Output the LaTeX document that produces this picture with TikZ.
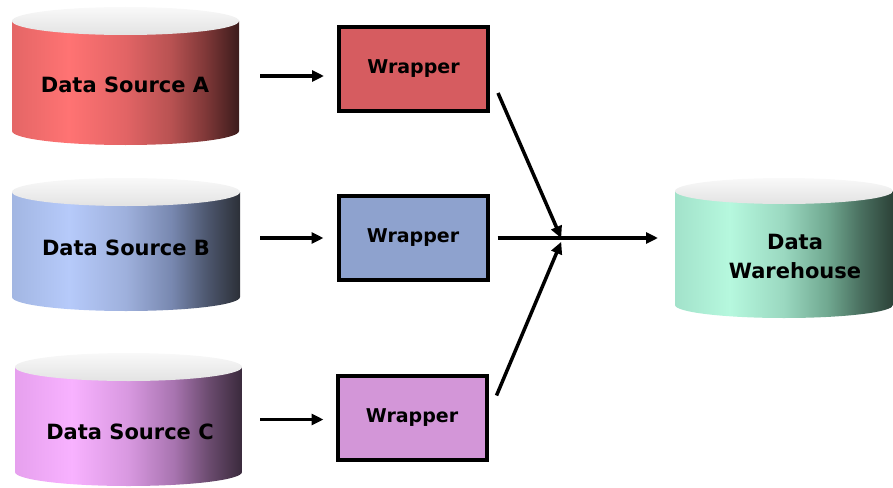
\documentclass[tikz,border=0pt]{standalone}
\usepackage{fontspec}
\setmainfont{DejaVu Sans}
\usetikzlibrary{arrows.meta}

% side colours of the drums (left edge, highlight, middle, darker, dark, right edge)
\definecolor{ra0}{HTML}{E46666}\definecolor{ra1}{HTML}{FF7373}\definecolor{ra2}{HTML}{E26465}
\definecolor{ra3}{HTML}{B85252}\definecolor{ra4}{HTML}{803838}\definecolor{ra5}{HTML}{3C1C1C}
\definecolor{rb0}{HTML}{A2B6E2}\definecolor{rb1}{HTML}{B6CAFA}\definecolor{rb2}{HTML}{9EB0DC}
\definecolor{rb3}{HTML}{7888B0}\definecolor{rb4}{HTML}{4E5870}\definecolor{rb5}{HTML}{2C3038}
\definecolor{rc0}{HTML}{E6A0EE}\definecolor{rc1}{HTML}{F8B2FF}\definecolor{rc2}{HTML}{D898E0}
\definecolor{rc3}{HTML}{A874B0}\definecolor{rc4}{HTML}{6C4C70}\definecolor{rc5}{HTML}{3A2A3C}
\definecolor{rw0}{HTML}{A2E2CA}\definecolor{rw1}{HTML}{B6F8DE}\definecolor{rw2}{HTML}{9AD8C0}
\definecolor{rw3}{HTML}{70A890}\definecolor{rw4}{HTML}{4A7060}\definecolor{rw5}{HTML}{2C4238}

\definecolor{wrapA}{HTML}{D65C60}
\definecolor{wrapB}{HTML}{8EA2CE}
\definecolor{wrapC}{HTML}{D396D8}

\newcommand\sideshading[2]{%
  \pgfdeclarehorizontalshading{#1}{100bp}{color(0bp)=(#20); color(25bp)=(#20);
    color(37.5bp)=(#21); color(50bp)=(#22); color(60bp)=(#23);
    color(67.5bp)=(#24); color(75bp)=(#25); color(100bp)=(#25)}}
\sideshading{sideA}{ra}
\sideshading{sideB}{rb}
\sideshading{sideC}{rc}
\sideshading{sideW}{rw}

\tikzset{
  lidshade/.style={shading=axis, top color=gray!5, bottom color=gray!22},
  drumbody/.style={inner sep=0pt, outer sep=0pt},
  drumtext/.style={font=\fontsize{21}{29}\selectfont\bfseries, align=center, inner sep=0pt},
  wrapbox/.style={draw=black, line width=4pt, minimum width=149pt, minimum height=84pt,
    inner sep=0pt, font=\fontsize{19}{23}\selectfont\bfseries},
  flow/.style={line width=3.5pt, -{Triangle[length=12pt,width=11pt]}},
}

% #1 left x, #2 right x, #3 lid centre y, #4 base centre y, #5 half height of ellipse,
% #6 side shading, #7 node name
\newcommand\dbdrum[7]{%
  \pgfmathsetmacro\drumrx{(#2-#1)/2}%
  \pgfmathsetmacro\drumcx{(#2+#1)/2}%
  \pgfmathsetmacro\drumcy{(#3+#4)/2}%
  \pgfmathsetmacro\drumw{#2-#1}%
  \pgfmathsetmacro\drumh{#4-#3}%
  \path[shading=#6] (#1,#3) -- (#1,#4)
     arc[start angle=180, end angle=360, x radius=\drumrx pt, y radius=#5pt]
     -- (#2,#3) -- cycle;
  \path[lidshade] (\drumcx,#3) ellipse[x radius=\drumrx pt, y radius=#5pt];
  \node[drumbody, minimum width=\drumw pt, minimum height=\drumh pt] (#7) at (\drumcx,\drumcy) {};
}

\begin{document}
\begin{tikzpicture}[x=1pt, y=-1pt]
\useasboundingbox (0,0) rectangle (893,487);

% sources and warehouse drums
\dbdrum{12}{239}{21}{131}{14}{sideA}{cylA}
\dbdrum{12}{240}{192}{297}{14}{sideB}{cylB}
\dbdrum{15}{242}{367}{472}{14}{sideC}{cylC}
\dbdrum{675}{893}{191}{305}{13}{sideW}{cylW}

\node[drumtext] (labA) at (125,85) {Data Source A};
\node[drumtext] (labB) at (126,248) {Data Source B};
\node[drumtext] (labC) at (130,432) {Data Source C};
\node[drumtext] (labW) at (795,256) {Data\\Warehouse};

% wrappers
\node[wrapbox, fill=wrapA] (wA) at (413.5,69) {Wrapper};
\node[wrapbox, fill=wrapB] (wB) at (413,238) {Wrapper};
\node[wrapbox, fill=wrapC] (wC) at (412,417.5) {Wrapper};

% junction where the wrapper outputs meet
\coordinate (jn) at (562,240);

% source -> wrapper
\draw[flow, shorten <=21pt, shorten >=13pt] (cylA.east) -- (cylA.east -| wA.west);
\draw[flow, shorten <=20pt, shorten >=13pt] (cylB.east |- wB.west) -- (wB.west);
\draw[flow, shorten <=18pt, shorten >=12pt] (cylC.east) -- (cylC.east -| wC.west);

% wrappers -> warehouse
\draw[flow, shorten >=2pt] ([xshift=8pt, yshift=-24pt]wA.east) -- (jn);
\draw[flow, shorten >=2pt] ([xshift=8pt, yshift=22pt]wC.east) -- (jn);
\draw[flow, shorten <=8pt, shorten >=17pt] (wB.east) -- (wB.east -| cylW.west);
\end{tikzpicture}
\end{document}
